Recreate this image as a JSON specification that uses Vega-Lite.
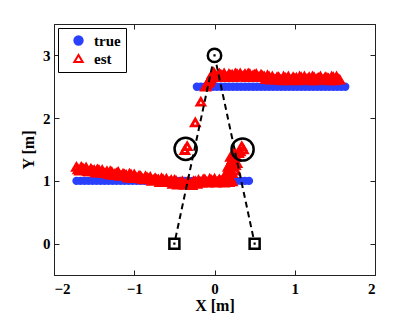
{
"$schema": "https://vega.github.io/schema/vega-lite/v6.json",
"width": 321, "height": 251, "autosize": "none",
"padding": {"left": 54, "top": 24, "right": 40, "bottom": 38},
"background": "white",
"config": {
  "view": {"stroke": "#222", "strokeWidth": 1},
  "axis": {"domainColor": "#222", "tickColor": "#222", "tickSize": -5, "grid": false,
    "labelFont": "Liberation Serif", "labelFontWeight": "bold", "labelFontSize": 15, "labelColor": "#000",
    "titleFont": "Liberation Serif", "titleFontWeight": "bold", "titleFontSize": 16, "titleColor": "#000"},
  "legend": {"orient": "top-left", "offset": 4, "padding": 5, "strokeColor": "#000", "fillColor": "#fff",
    "labelFont": "Liberation Serif", "labelFontWeight": "bold", "labelFontSize": 15, "labelColor": "#000",
    "symbolSize": 70, "symbolStrokeWidth": 2, "rowPadding": 1, "symbolOffset": 8, "labelOffset": 8}
},
"datasets": {
"traj": [
{"s":"true","x":-1.72,"y":1},{"s":"true","x":-1.67,"y":1},{"s":"true","x":-1.62,"y":1},{"s":"true","x":-1.57,"y":1},{"s":"true","x":-1.52,"y":1},{"s":"true","x":-1.47,"y":1},{"s":"true","x":-1.42,"y":1},{"s":"true","x":-1.37,"y":1},{"s":"true","x":-1.32,"y":1},{"s":"true","x":-1.27,"y":1},{"s":"true","x":-1.22,"y":1},{"s":"true","x":-1.17,"y":1},{"s":"true","x":-1.12,"y":1},{"s":"true","x":-1.07,"y":1},{"s":"true","x":-1.02,"y":1},{"s":"true","x":-0.97,"y":1},{"s":"true","x":-0.92,"y":1},{"s":"true","x":-0.87,"y":1},{"s":"true","x":-0.82,"y":1},{"s":"true","x":-0.77,"y":1},{"s":"true","x":-0.72,"y":1},{"s":"true","x":-0.67,"y":1},{"s":"true","x":-0.62,"y":1},{"s":"true","x":-0.57,"y":1},{"s":"true","x":-0.52,"y":1},{"s":"true","x":-0.47,"y":1},{"s":"true","x":-0.42,"y":1},{"s":"true","x":-0.37,"y":1},{"s":"true","x":-0.32,"y":1},{"s":"true","x":-0.27,"y":1},{"s":"true","x":-0.22,"y":1},{"s":"true","x":-0.17,"y":1},{"s":"true","x":-0.12,"y":1},{"s":"true","x":-0.07,"y":1},{"s":"true","x":-0.02,"y":1},{"s":"true","x":0.03,"y":1},{"s":"true","x":0.08,"y":1},{"s":"true","x":0.13,"y":1},{"s":"true","x":0.18,"y":1},{"s":"true","x":0.23,"y":1},{"s":"true","x":0.28,"y":1},{"s":"true","x":0.33,"y":1},{"s":"true","x":0.38,"y":1},{"s":"true","x":0.43,"y":1},
{"s":"true","x":-0.22,"y":2.5},{"s":"true","x":-0.17,"y":2.5},{"s":"true","x":-0.12,"y":2.5},{"s":"true","x":-0.07,"y":2.5},{"s":"true","x":-0.02,"y":2.5},{"s":"true","x":0.03,"y":2.5},{"s":"true","x":0.08,"y":2.5},{"s":"true","x":0.13,"y":2.5},{"s":"true","x":0.18,"y":2.5},{"s":"true","x":0.23,"y":2.5},{"s":"true","x":0.28,"y":2.5},{"s":"true","x":0.33,"y":2.5},{"s":"true","x":0.38,"y":2.5},{"s":"true","x":0.43,"y":2.5},{"s":"true","x":0.48,"y":2.5},{"s":"true","x":0.53,"y":2.5},{"s":"true","x":0.58,"y":2.5},{"s":"true","x":0.63,"y":2.5},{"s":"true","x":0.68,"y":2.5},{"s":"true","x":0.73,"y":2.5},{"s":"true","x":0.78,"y":2.5},{"s":"true","x":0.83,"y":2.5},{"s":"true","x":0.88,"y":2.5},{"s":"true","x":0.93,"y":2.5},{"s":"true","x":0.98,"y":2.5},{"s":"true","x":1.03,"y":2.5},{"s":"true","x":1.08,"y":2.5},{"s":"true","x":1.13,"y":2.5},{"s":"true","x":1.18,"y":2.5},{"s":"true","x":1.23,"y":2.5},{"s":"true","x":1.28,"y":2.5},{"s":"true","x":1.33,"y":2.5},{"s":"true","x":1.38,"y":2.5},{"s":"true","x":1.43,"y":2.5},{"s":"true","x":1.48,"y":2.5},{"s":"true","x":1.53,"y":2.5},{"s":"true","x":1.58,"y":2.5},{"s":"true","x":1.63,"y":2.5},
{"s":"est","x":-1.72,"y":1.22},{"s":"est","x":-1.68,"y":1.16},{"s":"est","x":-1.64,"y":1.2},{"s":"est","x":-1.6,"y":1.21},{"s":"est","x":-1.56,"y":1.15},{"s":"est","x":-1.52,"y":1.16},{"s":"est","x":-1.48,"y":1.13},{"s":"est","x":-1.44,"y":1.17},{"s":"est","x":-1.4,"y":1.17},{"s":"est","x":-1.36,"y":1.12},{"s":"est","x":-1.32,"y":1.1},{"s":"est","x":-1.28,"y":1.14},{"s":"est","x":-1.24,"y":1.11},{"s":"est","x":-1.2,"y":1.14},{"s":"est","x":-1.16,"y":1.08},{"s":"est","x":-1.12,"y":1.1},{"s":"est","x":-1.08,"y":1.05},{"s":"est","x":-1.04,"y":1.1},{"s":"est","x":-1.0,"y":1.1},{"s":"est","x":-0.96,"y":1.04},{"s":"est","x":-0.92,"y":1.07},{"s":"est","x":-0.88,"y":1.02},{"s":"est","x":-0.84,"y":1.05},{"s":"est","x":-0.8,"y":1.06},{"s":"est","x":-0.76,"y":1.01},{"s":"est","x":-0.72,"y":1.02},{"s":"est","x":-0.68,"y":0.98},{"s":"est","x":-0.64,"y":1.02},{"s":"est","x":-0.6,"y":1.03},{"s":"est","x":-0.56,"y":0.98},{"s":"est","x":-0.52,"y":0.95},{"s":"est","x":-0.48,"y":1.0},{"s":"est","x":-0.44,"y":0.97},{"s":"est","x":-0.4,"y":0.99},{"s":"est","x":-0.36,"y":0.94},{"s":"est","x":-0.32,"y":0.97},{"s":"est","x":-0.28,"y":0.93},{"s":"est","x":-0.24,"y":0.99},{"s":"est","x":-0.2,"y":1.01},{"s":"est","x":-0.16,"y":0.97},{"s":"est","x":-0.12,"y":1.02},{"s":"est","x":-0.08,"y":0.97},{"s":"est","x":-0.04,"y":1.01},{"s":"est","x":0.0,"y":1.03},{"s":"est","x":0.04,"y":0.98},{"s":"est","x":0.08,"y":1.0},{"s":"est","x":0.12,"y":0.97},{"s":"est","x":0.16,"y":1.02},{"s":"est","x":0.2,"y":1.03},{"s":"est","x":0.22,"y":0.99},
{"s":"est","x":-1.7,"y":1.18},{"s":"est","x":-1.66,"y":1.22},{"s":"est","x":-1.62,"y":1.17},{"s":"est","x":-1.58,"y":1.15},{"s":"est","x":-1.54,"y":1.19},{"s":"est","x":-1.5,"y":1.17},{"s":"est","x":-1.46,"y":1.18},{"s":"est","x":-1.42,"y":1.13},{"s":"est","x":-1.38,"y":1.13},{"s":"est","x":-1.34,"y":1.15},{"s":"est","x":-1.3,"y":1.15},{"s":"est","x":-1.26,"y":1.09},{"s":"est","x":-1.22,"y":1.12},{"s":"est","x":-1.18,"y":1.08},{"s":"est","x":-1.14,"y":1.11},{"s":"est","x":-1.1,"y":1.09},{"s":"est","x":-1.06,"y":1.11},{"s":"est","x":-1.02,"y":1.04},{"s":"est","x":-0.98,"y":1.06},{"s":"est","x":-0.94,"y":1.08},{"s":"est","x":-0.9,"y":1.03},{"s":"est","x":-0.86,"y":1.07},{"s":"est","x":-0.82,"y":1.03},{"s":"est","x":-0.78,"y":1.0},{"s":"est","x":-0.74,"y":1.04},{"s":"est","x":-0.7,"y":1.02},{"s":"est","x":-0.66,"y":1.04},{"s":"est","x":-0.62,"y":0.98},{"s":"est","x":-0.58,"y":0.98},{"s":"est","x":-0.54,"y":1.01},{"s":"est","x":-0.5,"y":1.01},{"s":"est","x":-0.46,"y":0.94},{"s":"est","x":-0.42,"y":0.97},{"s":"est","x":-0.38,"y":0.94},{"s":"est","x":-0.34,"y":0.98},{"s":"est","x":-0.3,"y":0.96},{"s":"est","x":-0.26,"y":0.99},{"s":"est","x":-0.22,"y":0.95},{"s":"est","x":-0.18,"y":0.98},{"s":"est","x":-0.14,"y":1.02},{"s":"est","x":-0.1,"y":0.98},{"s":"est","x":-0.06,"y":1.03},{"s":"est","x":-0.02,"y":0.99},{"s":"est","x":0.02,"y":0.97},{"s":"est","x":0.06,"y":1.02},{"s":"est","x":0.1,"y":1.01},{"s":"est","x":0.14,"y":1.03},{"s":"est","x":0.18,"y":0.98},
{"s":"est","x":0.18,"y":1.08},{"s":"est","x":0.14,"y":1.1},{"s":"est","x":0.16,"y":1.15},{"s":"est","x":0.22,"y":1.12},{"s":"est","x":0.26,"y":1.16},{"s":"est","x":0.2,"y":1.18},{"s":"est","x":0.17,"y":1.22},{"s":"est","x":0.24,"y":1.22},{"s":"est","x":0.19,"y":1.26},{"s":"est","x":0.26,"y":1.25},{"s":"est","x":0.28,"y":1.28},{"s":"est","x":0.21,"y":1.3},{"s":"est","x":0.25,"y":1.3},{"s":"est","x":0.22,"y":1.34},{"s":"est","x":0.27,"y":1.38},{"s":"est","x":0.2,"y":1.38},{"s":"est","x":0.23,"y":1.42},{"s":"est","x":0.25,"y":1.45},{"s":"est","x":0.3,"y":1.44},{"s":"est","x":0.32,"y":1.47},{"s":"est","x":0.36,"y":1.5},{"s":"est","x":0.34,"y":1.55},
{"s":"est","x":-0.37,"y":1.49},{"s":"est","x":-0.34,"y":1.55},{"s":"est","x":-0.24,"y":1.93},{"s":"est","x":-0.17,"y":2.26},{"s":"est","x":-0.11,"y":2.5},
{"s":"est","x":-0.1,"y":2.53},{"s":"est","x":-0.08,"y":2.56},{"s":"est","x":-0.07,"y":2.58},{"s":"est","x":-0.06,"y":2.6},{"s":"est","x":-0.05,"y":2.63},{"s":"est","x":-0.04,"y":2.65},{"s":"est","x":-0.03,"y":2.7},{"s":"est","x":-0.02,"y":2.68},{"s":"est","x":-0.01,"y":2.73},
{"s":"est","x":0.0,"y":2.7},{"s":"est","x":0.04,"y":2.65},{"s":"est","x":0.08,"y":2.69},{"s":"est","x":0.12,"y":2.71},{"s":"est","x":0.16,"y":2.66},{"s":"est","x":0.2,"y":2.68},{"s":"est","x":0.24,"y":2.65},{"s":"est","x":0.28,"y":2.7},{"s":"est","x":0.32,"y":2.71},{"s":"est","x":0.36,"y":2.67},{"s":"est","x":0.4,"y":2.65},{"s":"est","x":0.44,"y":2.7},{"s":"est","x":0.48,"y":2.68},{"s":"est","x":0.52,"y":2.7},{"s":"est","x":0.56,"y":2.65},{"s":"est","x":0.6,"y":2.67},{"s":"est","x":0.64,"y":2.62},{"s":"est","x":0.68,"y":2.66},{"s":"est","x":0.72,"y":2.66},{"s":"est","x":0.76,"y":2.61},{"s":"est","x":0.8,"y":2.65},{"s":"est","x":0.84,"y":2.6},{"s":"est","x":0.88,"y":2.64},{"s":"est","x":0.92,"y":2.66},{"s":"est","x":0.96,"y":2.61},{"s":"est","x":1.0,"y":2.63},{"s":"est","x":1.04,"y":2.6},{"s":"est","x":1.08,"y":2.65},{"s":"est","x":1.12,"y":2.66},{"s":"est","x":1.16,"y":2.62},{"s":"est","x":1.2,"y":2.6},{"s":"est","x":1.24,"y":2.65},{"s":"est","x":1.28,"y":2.63},{"s":"est","x":1.32,"y":2.66},{"s":"est","x":1.36,"y":2.61},{"s":"est","x":1.4,"y":2.64},{"s":"est","x":1.44,"y":2.6},{"s":"est","x":1.48,"y":2.65},{"s":"est","x":1.52,"y":2.66},{"s":"est","x":1.56,"y":2.61},
{"s":"est","x":0.02,"y":2.66},{"s":"est","x":0.06,"y":2.71},{"s":"est","x":0.1,"y":2.67},{"s":"est","x":0.14,"y":2.65},{"s":"est","x":0.18,"y":2.7},{"s":"est","x":0.22,"y":2.69},{"s":"est","x":0.26,"y":2.71},{"s":"est","x":0.3,"y":2.66},{"s":"est","x":0.34,"y":2.67},{"s":"est","x":0.38,"y":2.7},{"s":"est","x":0.42,"y":2.71},{"s":"est","x":0.46,"y":2.65},{"s":"est","x":0.5,"y":2.69},{"s":"est","x":0.54,"y":2.66},{"s":"est","x":0.58,"y":2.69},{"s":"est","x":0.62,"y":2.66},{"s":"est","x":0.66,"y":2.68},{"s":"est","x":0.7,"y":2.61},{"s":"est","x":0.74,"y":2.62},{"s":"est","x":0.78,"y":2.65},{"s":"est","x":0.82,"y":2.61},{"s":"est","x":0.86,"y":2.66},{"s":"est","x":0.9,"y":2.62},{"s":"est","x":0.94,"y":2.6},{"s":"est","x":0.98,"y":2.65},{"s":"est","x":1.02,"y":2.64},{"s":"est","x":1.06,"y":2.66},{"s":"est","x":1.1,"y":2.61},{"s":"est","x":1.14,"y":2.62},{"s":"est","x":1.18,"y":2.65},{"s":"est","x":1.22,"y":2.66},{"s":"est","x":1.26,"y":2.6},{"s":"est","x":1.3,"y":2.64},{"s":"est","x":1.34,"y":2.61},{"s":"est","x":1.38,"y":2.65},{"s":"est","x":1.42,"y":2.63},{"s":"est","x":1.46,"y":2.66},{"s":"est","x":1.5,"y":2.6},{"s":"est","x":1.54,"y":2.62}
],
"anchors": [{"x":-0.5,"y":0},{"x":0.5,"y":0}],
"bigcircles": [{"x":-0.36,"y":1.51},{"x":0.35,"y":1.5}],
"topcircle": [{"x":0,"y":3}],
"dots": [{"x":-0.5,"y":0},{"x":0.5,"y":0},{"x":0,"y":3}],
"rays": [{"r":"a","x":-0.487,"y":0.08},{"r":"a","x":-0.025,"y":2.85},{"r":"b","x":0.487,"y":0.08},{"r":"b","x":0.025,"y":2.85}]
},
"resolve": {"axis": {"x": "independent", "y": "independent"}},
"layer": [
{"data": {"name": "anchors"}, "mark": {"type": "point", "opacity": 0},
 "encoding": {
  "x": {"field": "x", "type": "quantitative", "scale": {"domain": [-2, 2], "nice": false, "zero": false}, "axis": {"orient": "top", "values": [-2,-1,0,1,2], "labels": false, "title": null}},
  "y": {"field": "y", "type": "quantitative", "scale": {"domain": [-0.5, 3.5], "nice": false, "zero": false}, "axis": {"orient": "right", "values": [0,1,2,3], "labels": false, "title": null}}}},
{"data": {"name": "traj"}, "mark": {"type": "point", "strokeWidth": 2.8, "opacity": 1},
 "encoding": {
  "x": {"field": "x", "type": "quantitative", "scale": {"domain": [-2, 2], "nice": false, "zero": false}, "axis": {"orient": "bottom", "values": [-2,-1,0,1,2], "title": "X [m]", "labelPadding": 11, "titlePadding": 1}},
  "y": {"field": "y", "type": "quantitative", "scale": {"domain": [-0.5, 3.5], "nice": false, "zero": false}, "axis": {"orient": "left", "values": [0,1,2,3], "title": "Y [m]", "labelPadding": 9, "titlePadding": 6}},
  "shape": {"field": "s", "type": "nominal", "scale": {"domain": ["true", "est"], "range": ["circle", "triangle-up"]}, "legend": {"title": null}},
  "stroke": {"field": "s", "type": "nominal", "scale": {"domain": ["true", "est"], "range": ["#2a40ff", "#ff0000"]}, "legend": {"title": null}},
  "fill": {"field": "s", "type": "nominal", "scale": {"domain": ["true", "est"], "range": ["#2a40ff", "transparent"]}, "legend": {"title": null}},
  "size": {"condition": {"test": "datum.s === 'true'", "value": 30}, "value": 60},
  "order": {"field": "s", "sort": "descending"}}},
{"data": {"name": "rays"}, "mark": {"type": "line", "color": "#000", "strokeWidth": 2, "strokeDash": [6, 4]},
 "encoding": {
  "x": {"field": "x", "type": "quantitative", "scale": {"domain": [-2, 2], "nice": false, "zero": false}, "axis": null},
  "y": {"field": "y", "type": "quantitative", "scale": {"domain": [-0.5, 3.5], "nice": false, "zero": false}, "axis": null},
  "detail": {"field": "r"}}},
{"data": {"name": "anchors"}, "mark": {"type": "point", "shape": "square", "size": 100, "stroke": "#000", "strokeWidth": 2.5, "filled": false, "opacity": 1},
 "encoding": {
  "x": {"field": "x", "type": "quantitative", "axis": null},
  "y": {"field": "y", "type": "quantitative", "axis": null}}},
{"data": {"name": "bigcircles"}, "mark": {"type": "point", "shape": "circle", "size": 490, "stroke": "#000", "strokeWidth": 2.5, "filled": false, "opacity": 1},
 "encoding": {
  "x": {"field": "x", "type": "quantitative", "axis": null},
  "y": {"field": "y", "type": "quantitative", "axis": null}}},
{"data": {"name": "topcircle"}, "mark": {"type": "point", "shape": "circle", "size": 180, "stroke": "#000", "strokeWidth": 2.5, "filled": false, "opacity": 1},
 "encoding": {
  "x": {"field": "x", "type": "quantitative", "axis": null},
  "y": {"field": "y", "type": "quantitative", "axis": null}}},
{"data": {"name": "dots"}, "mark": {"type": "point", "shape": "square", "size": 5, "color": "#000", "filled": true, "opacity": 1},
 "encoding": {
  "x": {"field": "x", "type": "quantitative", "axis": null},
  "y": {"field": "y", "type": "quantitative", "axis": null}}}
]
}
